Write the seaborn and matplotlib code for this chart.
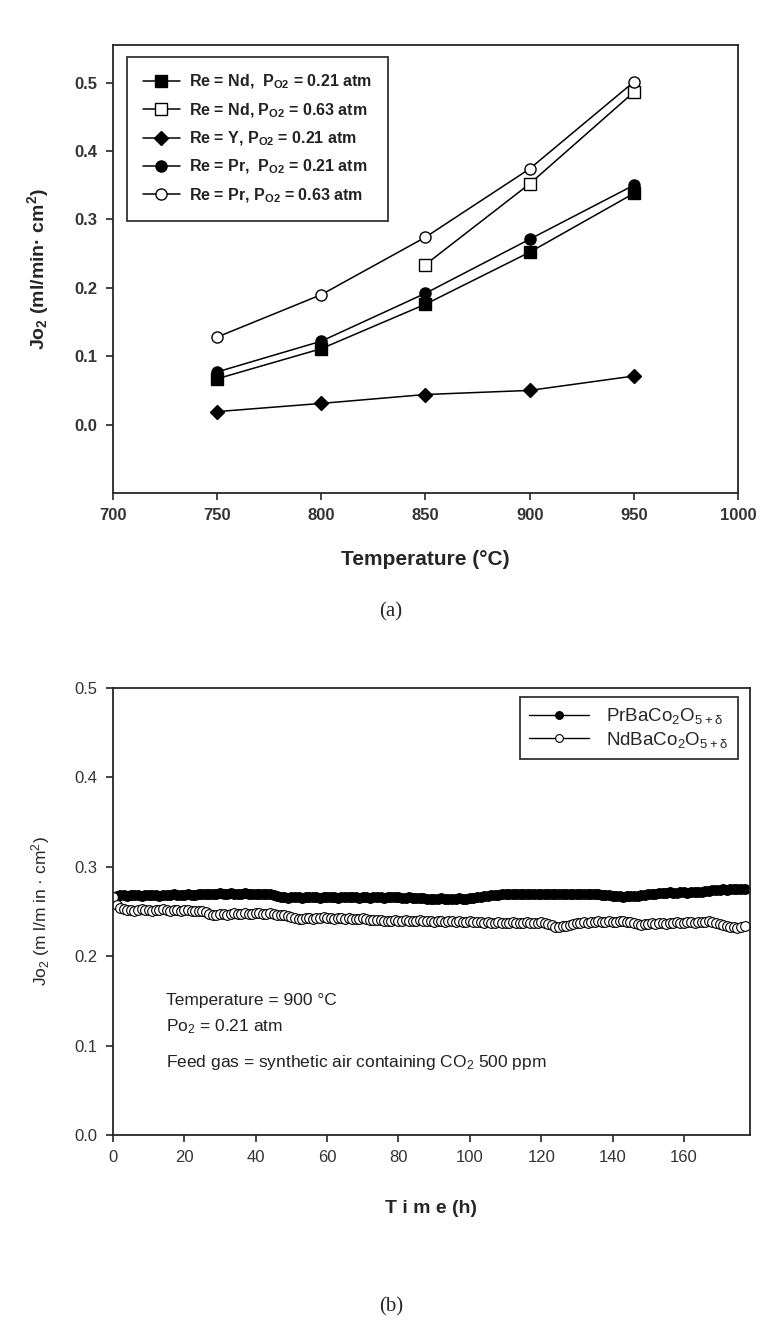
import numpy as np
import pandas as pd
import matplotlib
matplotlib.use("Agg")
import matplotlib.pyplot as plt
import seaborn as sns

# ---------------- data (a) ----------------
temps = [750, 800, 850, 900, 950]
nd_021 = [0.067, 0.111, 0.176, 0.252, 0.338]
nd_063_t = [850, 900, 950]
nd_063 = [0.234, 0.352, 0.486]
y_021 = [0.019, 0.031, 0.044, 0.050, 0.071]
pr_021 = [0.077, 0.122, 0.192, 0.271, 0.350]
pr_063 = [0.128, 0.190, 0.274, 0.374, 0.501]
labels_a = [
    "Re = Nd,  P$_{O2}$ = 0.21 atm",
    "Re = Nd, P$_{O2}$ = 0.63 atm",
    "Re = Y, P$_{O2}$ = 0.21 atm",
    "Re = Pr,  P$_{O2}$ = 0.21 atm",
    "Re = Pr, P$_{O2}$ = 0.63 atm",
]

# ---------------- data (b) ----------------
time_h = list(range(0, 178))
pr_flux = [0.266,
    0.267,0.268,0.268,0.267,0.268,0.268,0.268,0.267,0.268,0.268,0.268,0.268,0.267,
    0.268,0.268,0.268,0.269,0.268,0.268,0.268,0.269,0.268,0.268,0.269,0.269,0.269,
    0.270,0.270,0.270,0.271,0.270,0.270,0.271,0.270,0.270,0.270,0.271,0.270,0.270,
    0.269,0.270,0.270,0.269,0.269,0.268,0.267,
    0.266,0.266,0.265,0.266,0.266,0.266,0.265,0.266,0.266,0.266,0.266,0.265,0.266,
    0.266,0.266,0.266,0.265,0.266,0.266,0.266,0.266,0.266,0.265,0.266,0.266,0.265,
    0.266,0.266,0.266,0.265,0.266,0.266,0.266,0.266,0.265,0.265,0.266,0.265,0.265,
    0.265,0.265,0.264,
    0.264,0.264,0.264,0.265,0.264,0.264,0.264,0.264,0.265,0.264,0.264,0.265,0.265,0.266,
    0.266,0.267,0.267,0.268,0.268,0.268,0.269,
    0.269,0.269,0.270,0.269,0.269,0.269,0.270,0.269,0.269,0.269,0.269,0.270,0.269,
    0.269,0.269,0.270,0.269,0.269,0.269,0.269,0.270,0.269,0.269,0.269,0.269,0.269,
    0.269,0.268,0.268,0.268,0.267,
    0.267,0.267,0.266,0.267,0.267,0.267,0.267,0.268,0.268,
    0.269,0.270,0.270,0.271,0.271,0.271,0.272,0.271,0.271,0.272,0.272,0.271,0.272,
    0.272,0.272,0.272,0.273,
    0.273,0.274,0.274,0.274,0.275,0.274,0.275,0.275,0.275,0.275,0.275]
nd_flux = [0.266, 0.257, 0.254,
    0.253,0.252,0.252,0.251,0.252,0.253,0.252,0.252,0.251,0.252,0.252,0.253,0.252,
    0.251,0.252,0.252,0.251,0.252,0.252,0.251,0.250,0.250,0.250,0.249,
    0.247,0.246,0.246,0.247,0.247,0.246,0.247,0.248,0.247,0.247,0.248,0.247,0.247,
    0.248,0.248,0.247,0.247,0.248,0.247,0.246,0.246,0.246,0.245,0.244,
    0.243,0.242,0.242,0.243,0.243,0.242,0.243,0.243,0.244,0.243,0.243,0.242,0.243,
    0.243,0.242,0.243,0.242,0.242,0.242,0.243,0.242,0.241,0.241,0.240,0.240,0.239,
    0.239,0.239,0.240,0.239,0.239,0.240,0.239,0.239,0.239,0.240,0.239,0.239,0.239,
    0.238,0.239,0.239,0.238,0.239,0.239,0.238,0.239,0.238,0.238,0.239,0.238,0.238,0.238,
    0.237,0.238,0.237,0.237,0.238,0.237,0.237,0.237,0.238,0.237,0.237,0.237,0.238,
    0.237,0.237,0.237,0.238,0.237,0.236,0.235,
    0.233,0.233,0.234,0.234,0.235,0.236,
    0.237,0.237,0.238,0.237,0.238,0.238,0.239,0.238,0.238,0.239,0.238,0.238,0.239,
    0.239,0.238,0.238,0.237,0.236,
    0.235,0.236,0.236,0.237,0.236,0.237,0.237,0.236,0.237,0.237,0.238,0.237,0.237,
    0.238,0.238,0.237,0.238,0.238,0.238,0.239,0.238,0.237,0.236,
    0.235,0.234,0.233,0.233,0.232,0.233,0.234]
labels_b = ["PrBaCo$_2$O$_{5+δ}$", "NdBaCo$_2$O$_{5+δ}$"]

# ---------------- style ----------------
sns.set_style("ticks")
plt.rcParams["font.family"] = ["Liberation Sans", "DejaVu Sans"]
plt.rcParams["mathtext.default"] = "regular"
plt.rcParams["axes.linewidth"] = 1.3

fig = plt.figure(figsize=(7.82, 13.31), dpi=100)
axA = fig.add_axes([0.1445, 0.6296, 0.7992, 0.3366])
axB = fig.add_axes([0.1445, 0.1473, 0.8145, 0.3358])

tick_col = "#333333"

# ---------------- panel (a) ----------------
series_a = [
    (temps, nd_021, "s", "black"),
    (nd_063_t, nd_063, "s", "white"),
    (temps, y_021, "D", "black"),
    (temps, pr_021, "o", "black"),
    (temps, pr_063, "o", "white"),
]
for (xs, ys, mk, fc), lab in zip(series_a, labels_a):
    ms = 7.5 if mk == "D" else 8
    sns.lineplot(x=xs, y=ys, ax=axA, color="black", lw=1.1, marker=mk,
                 markersize=ms, markerfacecolor=fc, markeredgecolor="black",
                 markeredgewidth=1.0, label=lab)

axA.set_xlim(700, 1000)
axA.set_ylim(-0.1, 0.555)
axA.set_xticks(np.arange(700, 1001, 50))
axA.set_yticks(np.arange(0, 0.51, 0.1))
axA.set_yticklabels([f"{v:.1f}" for v in np.arange(0, 0.51, 0.1)])
axA.tick_params(direction="out", length=5, width=1.2, pad=6, labelsize=12,
                labelcolor=tick_col, top=False, right=False)
for lab in axA.get_xticklabels() + axA.get_yticklabels():
    lab.set_fontweight("bold")
for s in axA.spines.values():
    s.set_visible(True)
    s.set_linewidth(1.3)
axA.set_xlabel("Temperature (°C)", fontsize=15, fontweight="bold", labelpad=19)
axA.set_ylabel("Jo$_2$ (ml/min· cm$^2$)", fontsize=14, fontweight="bold", labelpad=17)
legA = axA.legend(loc="upper left", bbox_to_anchor=(0.0224, 0.973), borderaxespad=0,
                  frameon=True, fancybox=False, edgecolor="black", fontsize=11.5,
                  handlelength=2.3, borderpad=1.0, labelspacing=0.62,
                  handletextpad=0.6)
legA.get_frame().set_linewidth(1.3)
for t in legA.get_texts():
    t.set_fontweight("bold")
    t.set_color("#222222")

# ---------------- panel (b) ----------------
sns.lineplot(x=time_h, y=pr_flux, ax=axB, color="black", lw=1.0, marker="o",
             markersize=7, markerfacecolor="black", markeredgecolor="black",
             markeredgewidth=0.8, label=labels_b[0])
sns.lineplot(x=time_h, y=nd_flux, ax=axB, color="black", lw=1.0, marker="o",
             markersize=7, markerfacecolor="white", markeredgecolor="black",
             markeredgewidth=0.8, label=labels_b[1])

axB.set_xlim(0, 178.5)
axB.set_ylim(0, 0.5)
axB.set_xticks(np.arange(0, 161, 20))
axB.set_yticks(np.arange(0, 0.51, 0.1))
axB.set_yticklabels([f"{v:.1f}" for v in np.arange(0, 0.51, 0.1)])
axB.tick_params(direction="out", length=5, width=1.2, pad=6, labelsize=12,
                labelcolor=tick_col, top=False, right=False)
for s in axB.spines.values():
    s.set_visible(True)
    s.set_linewidth(1.3)
axB.set_xlabel("T i m e (h)", fontsize=14, fontweight="bold", labelpad=25)
axB.set_ylabel("Jo$_2$ (m l/m in · cm$^2$)", fontsize=12.5, labelpad=16)
legB = axB.legend(loc="upper right", bbox_to_anchor=(0.981, 0.98), borderaxespad=0,
                  frameon=True, fancybox=False, edgecolor="black", fontsize=13.5,
                  handlelength=3.2, borderpad=0.5, labelspacing=0.2,
                  markerscale=0.8, handletextpad=0.9)
legB.get_frame().set_linewidth(1.3)

txt_kw = dict(transform=axB.transAxes, fontsize=12.5, color="#222222",
              ha="left", va="baseline")
axB.text(0.083, 0.291, "Temperature = 900 °C", **txt_kw)
axB.text(0.083, 0.233, "Po$_2$ = 0.21 atm", **txt_kw)
axB.text(0.083, 0.152, "Feed gas = synthetic air containing CO$_2$ 500 ppm", **txt_kw)

# ---------------- panel captions ----------------
fig.text(0.5, 1 - 612 / 1331, "(a)", ha="center", va="center", fontsize=15,
         family=["Liberation Serif", "DejaVu Serif"])
fig.text(0.5, 1 - 1307 / 1331, "(b)", ha="center", va="center", fontsize=15,
         family=["Liberation Serif", "DejaVu Serif"])

fig.savefig("out.png", dpi=100)
